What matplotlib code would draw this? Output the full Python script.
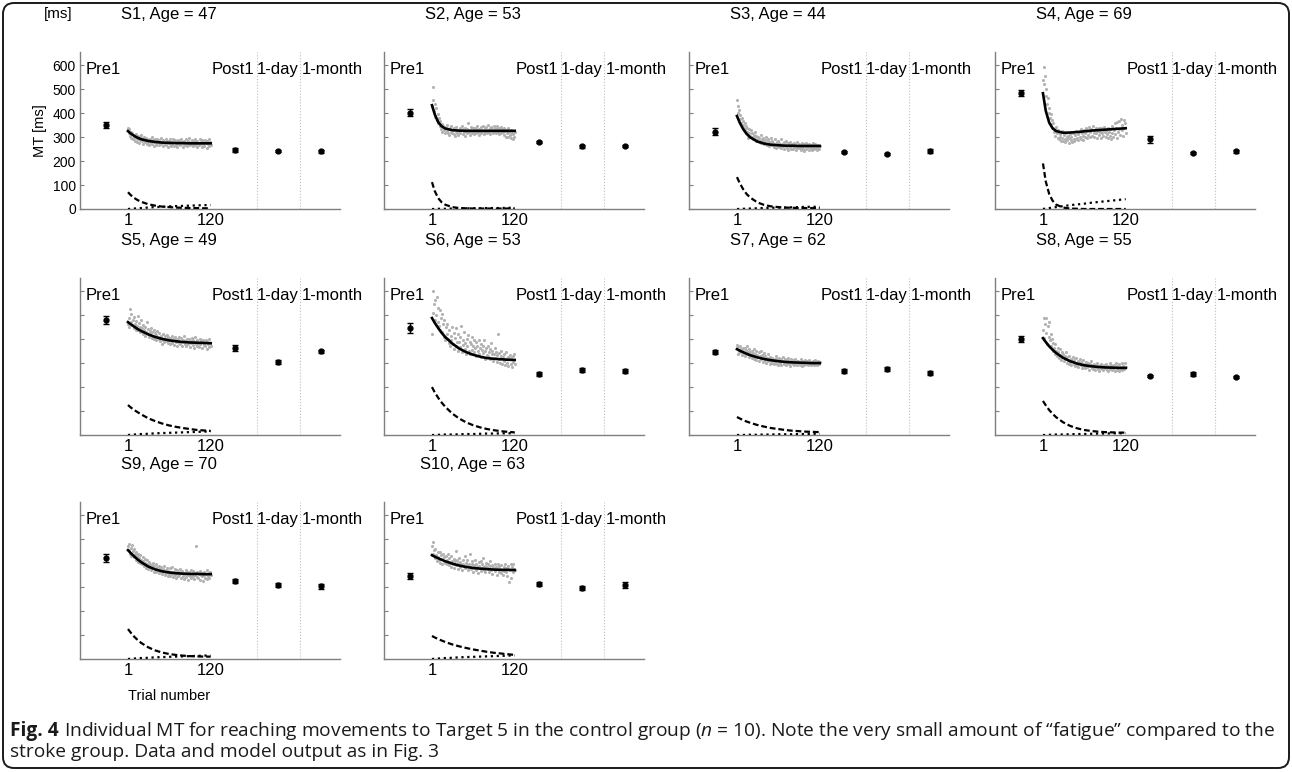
import numpy as np
import matplotlib.pyplot as plt
import matplotlib.transforms as mtransforms
from matplotlib.patches import FancyBboxPatch

plt.rcParams['font.family'] = ['Liberation Sans', 'DejaVu Sans']
plt.rcParams['mathtext.fontset'] = 'custom'
plt.rcParams['mathtext.rm'] = 'Open Sans'
plt.rcParams['mathtext.it'] = 'Open Sans:italic'

subjects = ["S1", "S2", "S3", "S4", "S5", "S6", "S7", "S8", "S9", "S10"]
ages = [47, 53, 44, 69, 49, 53, 62, 55, 70, 63]
session_labels = ["Pre1", "Post1", "1-day", "1-month"]

# session means and error bars [ms]
pre1_mean = [350, 402, 322, 485, 479, 446, 346, 400, 421, 346]
pre1_err = [12, 14, 14, 13, 16, 20, 10, 12, 15, 12]
post1_mean = [245, 279, 238, 291, 362, 254, 267, 246, 325, 313]
post1_err = [8, 5, 5, 15, 13, 7, 8, 5, 10, 10]
day1_mean = [242, 261, 230, 234, 304, 271, 275, 254, 308, 296]
day1_err = [4, 6, 4, 5, 8, 9, 10, 8, 9, 8]
month1_mean = [240, 262, 242, 240, 350, 267, 258, 242, 304, 308]
month1_err = [6, 4, 7, 6, 6, 10, 8, 6, 10, 12]

# model curves read at these trials
trial_nodes = [1, 5, 10, 15, 20, 30, 40, 50, 60, 70, 80, 90, 100, 110, 120]
fit_mt = [
    [325, 315, 305, 297, 291, 284, 280, 277, 276, 275, 275, 274, 274, 274, 274],
    [433, 395, 362, 345, 336, 329, 327, 326, 326, 326, 326, 326, 326, 326, 326],
    [388, 360, 333, 313, 299, 282, 273, 268, 266, 264, 264, 263, 263, 263, 263],
    [483, 410, 360, 336, 325, 318, 319, 321, 324, 327, 329, 331, 333, 335, 337],
    [471, 462, 452, 442, 434, 420, 409, 401, 395, 391, 388, 386, 385, 384, 383],
    [488, 468, 446, 426, 409, 382, 361, 346, 335, 327, 321, 318, 316, 314, 313],
    [358, 352, 345, 339, 333, 324, 317, 312, 308, 305, 303, 302, 301, 300, 300],
    [404, 388, 370, 355, 342, 322, 308, 298, 291, 287, 284, 282, 281, 280, 280],
    [454, 442, 428, 415, 404, 386, 374, 366, 361, 358, 356, 355, 355, 354, 354],
    [433, 427, 420, 414, 408, 398, 390, 384, 380, 377, 375, 373, 372, 372, 371],
]
fast_comp = [
    [70, 58, 46, 37, 30, 20, 14, 10, 8, 6, 5, 4, 4, 3, 3],
    [112, 75, 45, 28, 18, 8, 4, 3, 2, 2, 2, 2, 2, 2, 2],
    [133, 108, 82, 62, 48, 28, 17, 11, 8, 6, 5, 4, 4, 4, 4],
    [190, 115, 62, 34, 18, 6, 2, 1, 0, 0, 0, 0, 0, 0, 0],
    [125, 115, 104, 95, 86, 70, 58, 48, 40, 34, 29, 25, 21, 19, 17],
    [200, 178, 155, 135, 118, 90, 69, 53, 41, 32, 25, 20, 16, 13, 11],
    [75, 69, 62, 56, 51, 42, 35, 29, 25, 21, 18, 16, 14, 13, 12],
    [142, 124, 104, 88, 74, 53, 38, 28, 21, 17, 14, 12, 11, 10, 10],
    [125, 110, 93, 79, 67, 49, 36, 27, 21, 17, 14, 12, 11, 10, 10],
    [96, 90, 83, 77, 71, 61, 53, 46, 40, 35, 30, 26, 23, 20, 17],
]
fatigue_comp = [
    [0, 1, 2, 3, 4, 6, 8, 9, 11, 12, 13, 14, 15, 16, 17],
    [0, 0, 1, 1, 1, 2, 2, 3, 3, 3, 4, 4, 4, 5, 5],
    [0, 0, 1, 1, 2, 3, 4, 5, 6, 6, 7, 8, 9, 9, 10],
    [0, 2, 4, 6, 8, 12, 16, 19, 22, 26, 29, 32, 35, 38, 41],
    [0, 1, 2, 3, 4, 5, 7, 8, 9, 10, 11, 12, 13, 14, 15],
    [0, 0, 1, 1, 2, 2, 3, 4, 4, 5, 6, 6, 7, 7, 8],
    [0, 0, 0, 1, 1, 1, 2, 2, 3, 3, 3, 4, 4, 5, 5],
    [0, 0, 1, 1, 2, 2, 3, 4, 4, 5, 6, 6, 7, 7, 8],
    [0, 1, 2, 3, 4, 5, 7, 8, 9, 10, 11, 12, 13, 14, 15],
    [0, 1, 2, 3, 4, 5, 7, 8, 9, 10, 11, 12, 13, 14, 15],
]

# single-trial MT, trials 1..120
trial_mt = [
    [340, 318, 332, 305, 322, 296, 315, 290, 310, 300, 285, 312, 298, 280, 305, 292, 276, 300, 288, 310,
     283, 295, 270, 302, 288, 278, 296, 272, 290, 281, 268, 294, 284, 275, 300, 270, 286, 279, 262, 290,
     277, 268, 292, 281, 265, 286, 274, 296, 270, 280, 262, 288, 276, 270, 292, 266, 282, 275, 258, 285,
     272, 290, 264, 280, 271, 294, 262, 279, 286, 268, 276, 260, 289, 272, 282, 266, 294, 270, 278, 258,
     285, 272, 266, 290, 276, 262, 282, 271, 295, 265, 279, 270, 288, 261, 276, 284, 268, 292, 273, 260,
     282, 274, 266, 290, 270, 279, 258, 286, 272, 280, 264, 288, 275, 256, 282, 270, 292, 262, 278, 268],
    [430, 510, 455, 410, 440, 385, 420, 372, 398, 360, 380, 345, 368, 335, 356, 322, 348, 330, 342, 315,
     338, 325, 350, 318, 332, 310, 340, 322, 345, 316, 330, 312, 336, 305, 326, 342, 318, 330, 308, 324,
     338, 316, 328, 345, 312, 333, 320, 305, 340, 325, 318, 335, 360, 322, 310, 330, 342, 315, 327, 338,
     312, 326, 340, 318, 332, 346, 320, 308, 335, 322, 342, 316, 330, 325, 348, 312, 336, 320, 344, 318,
     330, 350, 322, 338, 314, 342, 326, 335, 318, 346, 324, 340, 316, 332, 345, 320, 336, 312, 328, 342,
     318, 334, 322, 310, 340, 326, 302, 330, 316, 336, 300, 322, 310, 328, 295, 318, 290, 312, 300, 320],
    [455, 430, 400, 415, 375, 392, 360, 380, 352, 368, 340, 358, 330, 348, 322, 338, 296, 318, 335, 305,
     328, 300, 315, 290, 310, 296, 320, 285, 305, 292, 300, 278, 296, 284, 310, 275, 292, 282, 298, 270,
     288, 276, 302, 268, 284, 292, 262, 280, 272, 295, 266, 282, 274, 260, 290, 270, 256, 278, 266, 285,
     258, 276, 268, 290, 254, 272, 262, 280, 250, 270, 264, 282, 256, 275, 248, 268, 260, 278, 252, 272,
     262, 250, 276, 258, 268, 246, 280, 260, 254, 272, 256, 266, 248, 274, 260, 252, 270, 244, 264, 276,
     250, 268, 258, 246, 272, 262, 254, 266, 248, 275, 260, 252, 270, 256, 264, 246, 268, 258, 250, 262],
    [540, 592, 520, 555, 470, 500, 440, 462, 400, 420, 380, 395, 355, 372, 340, 358, 320, 335, 305, 342,
     318, 296, 330, 290, 312, 300, 282, 325, 298, 285, 310, 292, 278, 318, 300, 286, 305, 275, 296, 312,
     288, 302, 280, 315, 294, 284, 308, 290, 326, 298, 312, 286, 320, 300, 335, 292, 316, 305, 288, 328,
     302, 318, 338, 296, 325, 310, 342, 300, 320, 335, 306, 328, 345, 315, 300, 330, 340, 318, 298, 325,
     336, 310, 322, 295, 340, 316, 330, 305, 342, 320, 300, 326, 312, 338, 296, 320, 306, 332, 290, 315,
     345, 302, 328, 358, 312, 340, 298, 362, 322, 335, 368, 310, 375, 330, 352, 305, 372, 340, 360, 318],
    [465, 450, 490, 525, 470, 505, 458, 480, 445, 492, 462, 440, 475, 455, 498, 436, 468, 450, 430, 478,
     445, 420, 460, 438, 415, 452, 430, 470, 425, 442, 410, 435, 420, 448, 405, 428, 415, 440, 400, 425,
     418, 395, 432, 410, 402, 425, 392, 415, 405, 380, 420, 398, 388, 412, 402, 392, 418, 385, 408, 396,
     378, 405, 392, 415, 385, 400, 375, 410, 395, 388, 402, 372, 396, 410, 385, 378, 405, 390, 370, 398,
     388, 412, 380, 395, 372, 402, 386, 378, 400, 368, 392, 382, 405, 375, 398, 365, 388, 410, 380, 372,
     395, 385, 368, 402, 378, 392, 362, 386, 398, 375, 382, 370, 395, 360, 388, 378, 400, 366, 385, 372],
    [420, 600, 510, 545, 480, 565, 500, 575, 470, 530, 455, 520, 440, 490, 505, 430, 465, 410, 480, 395,
     450, 420, 465, 400, 385, 440, 372, 415, 398, 450, 380, 425, 360, 405, 445, 372, 390, 352, 420, 386,
     368, 410, 455, 345, 395, 375, 430, 360, 385, 340, 402, 370, 418, 350, 390, 338, 378, 410, 355, 372,
     395, 345, 365, 388, 330, 372, 352, 398, 340, 362, 380, 325, 355, 370, 342, 395, 318, 350, 365, 335,
     372, 328, 345, 360, 315, 385, 338, 352, 310, 340, 365, 322, 348, 305, 335, 420, 318, 342, 300, 330,
     352, 295, 325, 310, 338, 290, 318, 345, 302, 326, 288, 315, 335, 298, 322, 285, 330, 305, 340, 296],
    [375, 340, 368, 352, 372, 345, 360, 335, 365, 350, 342, 362, 330, 355, 370, 338, 348, 326, 358, 345,
     335, 350, 322, 342, 360, 318, 338, 352, 312, 335, 325, 345, 310, 330, 350, 315, 332, 305, 328, 342,
     312, 330, 300, 322, 338, 308, 318, 296, 325, 310, 302, 320, 312, 295, 318, 305, 328, 298, 315, 290,
     308, 322, 300, 315, 292, 310, 325, 302, 296, 318, 305, 290, 312, 300, 322, 295, 308, 288, 315, 302,
     298, 312, 290, 305, 318, 296, 308, 292, 310, 300, 294, 306, 316, 298, 288, 310, 300, 292, 312, 304,
     296, 308, 290, 302, 314, 298, 306, 292, 300, 310, 302, 294, 312, 298, 306, 290, 308, 300, 296, 304],
    [440, 490, 405, 462, 425, 490, 380, 455, 410, 470, 395, 420, 370, 400, 350, 385, 362, 340, 378, 352,
     330, 365, 345, 322, 358, 335, 312, 348, 325, 340, 310, 330, 318, 345, 300, 325, 312, 295, 330, 306,
     318, 292, 308, 325, 298, 312, 288, 320, 302, 294, 310, 285, 300, 318, 290, 305, 280, 296, 312, 288,
     298, 278, 305, 290, 282, 300, 272, 295, 286, 308, 280, 292, 275, 298, 285, 270, 294, 282, 300, 276,
     288, 268, 292, 280, 296, 274, 286, 270, 290, 278, 284, 296, 272, 288, 266, 282, 300, 274, 290, 270,
     286, 276, 294, 268, 282, 300, 272, 288, 278, 296, 268, 284, 276, 300, 270, 288, 280, 274, 300, 282],
    [470, 455, 478, 440, 462, 430, 475, 450, 425, 458, 440, 415, 448, 428, 405, 438, 420, 400, 432, 412,
     395, 425, 408, 388, 418, 400, 380, 412, 395, 375, 405, 385, 398, 370, 392, 380, 402, 365, 388, 375,
     395, 362, 382, 372, 390, 358, 378, 368, 385, 355, 375, 362, 388, 350, 370, 358, 380, 345, 368, 356,
     378, 348, 365, 355, 382, 342, 362, 352, 375, 340, 358, 370, 345, 362, 350, 375, 338, 358, 368, 345,
     360, 335, 355, 372, 342, 365, 350, 330, 362, 348, 370, 340, 356, 345, 366, 335, 358, 350, 472, 342,
     362, 338, 355, 368, 330, 352, 345, 360, 325, 350, 365, 340, 356, 335, 372, 345, 358, 338, 362, 350],
    [470, 490, 440, 455, 420, 460, 435, 408, 448, 425, 412, 445, 400, 432, 418, 395, 438, 410, 425, 402,
     430, 398, 415, 440, 392, 420, 405, 385, 428, 410, 395, 418, 380, 408, 450, 392, 412, 375, 400, 420,
     385, 405, 395, 372, 415, 398, 388, 430, 378, 402, 392, 412, 370, 398, 385, 440, 375, 395, 408, 365,
     392, 380, 415, 372, 398, 385, 360, 405, 390, 378, 410, 368, 395, 382, 420, 372, 390, 362, 400, 385,
     375, 398, 365, 388, 410, 372, 392, 355, 385, 378, 395, 368, 385, 352, 378, 398, 365, 388, 375, 360,
     392, 372, 350, 385, 368, 395, 362, 380, 345, 375, 388, 320, 370, 398, 340, 382, 365, 395, 375, 370],
]

W, H = 1292, 772
fig = plt.figure(figsize=(W / 100, H / 100), dpi=100)

# rounded frame round the figure and caption (display pixels, origin bottom left)
r = 11
frame = FancyBboxPatch((3 + r, 4 + r), 1286 - 2 * r, 765 - 2 * r,
                       boxstyle=f"round,pad={r}", transform=None,
                       fill=False, ec='#1a1a1a', lw=1.4)
fig.patches.append(frame)

col_left = [80, 384, 689, 995]
row_top = [52, 278, 502]
ax_w, ax_h = 260, 157

sess_x = [-30, 155, 217, 278]
sep_x = [186, 248]
ymax = 655

for i in range(len(subjects)):
    rr, c = divmod(i, 4)
    ax = fig.add_axes([col_left[c] / W, 1 - (row_top[rr] + ax_h) / H, ax_w / W, ax_h / H])
    ax.set_xlim(-68, 306)
    ax.set_ylim(0, ymax)

    ax.scatter(np.arange(1, 121), trial_mt[i], s=5, c='#b2b2b2', linewidths=0, zorder=2)
    ax.plot(trial_nodes, fit_mt[i], color='black', lw=1.9, zorder=3)
    ax.plot(trial_nodes, fast_comp[i], color='black', lw=1.6, dashes=(2.6, 1.3), zorder=3)
    ax.plot(trial_nodes, fatigue_comp[i], color='black', lw=1.6, ls=':', zorder=3)

    means = [pre1_mean[i], post1_mean[i], day1_mean[i], month1_mean[i]]
    errs = [pre1_err[i], post1_err[i], day1_err[i], month1_err[i]]
    ax.errorbar(sess_x, means, yerr=errs, fmt='o', ms=3.5, color='black',
                ecolor='black', elinewidth=1, capsize=2, zorder=4)

    for xv in sep_x:
        ax.axvline(xv, color='#bdbdbd', lw=0.8, ls=':', zorder=1)

    ax.text(-60, 583, session_labels[0], ha='left', va='center', fontsize=12)
    ax.text(sep_x[0] - 3, 583, session_labels[1], ha='right', va='center', fontsize=12)
    ax.text((sep_x[0] + sep_x[1]) / 2, 583, session_labels[2], ha='center', va='center', fontsize=12)
    ax.text(sep_x[1] + 3, 583, session_labels[3], ha='left', va='center', fontsize=12)

    trans = mtransforms.blended_transform_factory(ax.transData, ax.transAxes)
    ax.text(60, 1 + 38 / ax_h, f"{subjects[i]}, Age = {ages[i]}", transform=trans,
            ha='center', va='center', fontsize=12)

    for side in ['top', 'right']:
        ax.spines[side].set_visible(False)
    for side in ['left', 'bottom']:
        ax.spines[side].set_color('#7f7f7f')
        ax.spines[side].set_linewidth(1)

    ax.set_xticks([1, 120])
    ax.set_xticklabels(['1', '120'], fontsize=12)
    ax.set_yticks(np.arange(0, 601, 100))
    ax.tick_params(axis='both', direction='in', length=3, color='#7f7f7f', pad=3)
    ax.tick_params(axis='x', length=0, pad=3)
    if i == 0:
        ax.tick_params(axis='y', labelsize=10)
        ax.set_ylabel('MT [ms]', fontsize=10.5, labelpad=4)
        ax.text(-0.03, 1 + 38 / ax_h, '[ms]', transform=ax.transAxes,
                ha='right', va='center', fontsize=11)
    else:
        ax.set_yticklabels([])
    if i == 8:
        ax.text(60, -0.19, 'Trial number', transform=trans, ha='center', va='top', fontsize=10.5)

# caption
renderer = fig.canvas.get_renderer()
cap_x = 10 / W
cap_style = dict(family='Open Sans', fontsize=13.8, va='center', color='#1a1a1a')
t1 = fig.text(cap_x, 1 - 731 / H, 'Fig. 4', weight='bold', **cap_style)
bb = t1.get_window_extent(renderer)
fig.text((bb.x1 + 5) / W, 1 - 731 / H,
         'Individual MT for reaching movements to Target 5 in the control group ($n$ = 10). '
         'Note the very small amount of \u201cfatigue\u201d compared to the', **cap_style)
fig.text(cap_x, 1 - 752 / H, 'stroke group. Data and model output as in Fig. 3', **cap_style)

fig.savefig('out.png', dpi=100)
